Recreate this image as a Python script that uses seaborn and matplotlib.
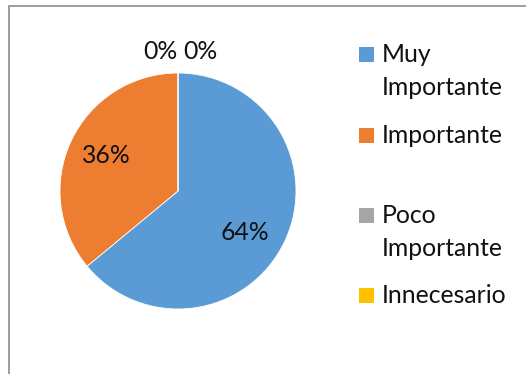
import matplotlib
matplotlib.use("Agg")
import matplotlib.pyplot as plt
from matplotlib.patches import Rectangle
import seaborn as sns

categories = ["Muy Importante", "Importante", "Poco Importante", "Innecesario"]
legend_lines = [["Muy", "Importante"], ["Importante"], ["Poco", "Importante"], ["Innecesario"]]
values = [64, 36, 0, 0]
colors = ["#5B9BD5", "#ED7D31", "#A5A5A5", "#FFC000"]

sns.set_theme(style="white")
plt.rcParams["font.family"] = ["Lato", "DejaVu Sans"]

W, H = 526, 374
FS = 17.8
fig = plt.figure(figsize=(W / 100, H / 100), dpi=100)
fig.patch.set_facecolor("white")

# chart border (left and top visible)
fig.add_artist(Rectangle((8.5 / W, -0.1), 1.2, (H - 6.5) / H + 0.1,
                         transform=fig.transFigure, fill=False,
                         edgecolor="#8c8c8c", linewidth=1.2))

cx, cy, r = 178, 191, 118
ax = fig.add_axes([(cx - r) / W, (H - cy - r) / H, 2 * r / W, 2 * r / H])
wedges, texts, autotexts = ax.pie(
    values, colors=colors, startangle=90, counterclock=False,
    autopct=lambda p: f"{p:.0f}%", pctdistance=0.68, radius=1,
    wedgeprops=dict(edgecolor="white", linewidth=0.6),
    textprops=dict(fontsize=FS, color="#111111"))
ax.set_xlim(-1, 1)
ax.set_ylim(-1, 1)
ax.set_aspect("auto")
ax.axis("off")

# nudge the big labels to where the reference shows them
label_pos = {0: (0.57, -0.35), 1: (-0.61, 0.30)}
for i, p in label_pos.items():
    autotexts[i].set_position(p)

# zero-value labels sit above the pie, side by side
zero_pos = [(-0.15, 1.18), (0.19, 1.18)]
k = 0
for i, v in enumerate(values):
    if v == 0 and k < len(zero_pos):
        autotexts[i].set_position(zero_pos[k])
        autotexts[i].set_clip_on(False)
        k += 1

# legend
baselines = [62, 143, 223, 303]
line_gap = 33
for lines, col, b in zip(legend_lines, colors, baselines):
    fig.add_artist(Rectangle((359 / W, (H - b) / H), 14.5 / W, 15 / H,
                             transform=fig.transFigure, facecolor=col,
                             edgecolor="none"))
    for j, ln in enumerate(lines):
        fig.text(382 / W, (H - b - j * line_gap) / H, ln, fontsize=FS,
                 color="#111111", ha="left", va="baseline")

fig.savefig("out.png", dpi=100, facecolor="white")
